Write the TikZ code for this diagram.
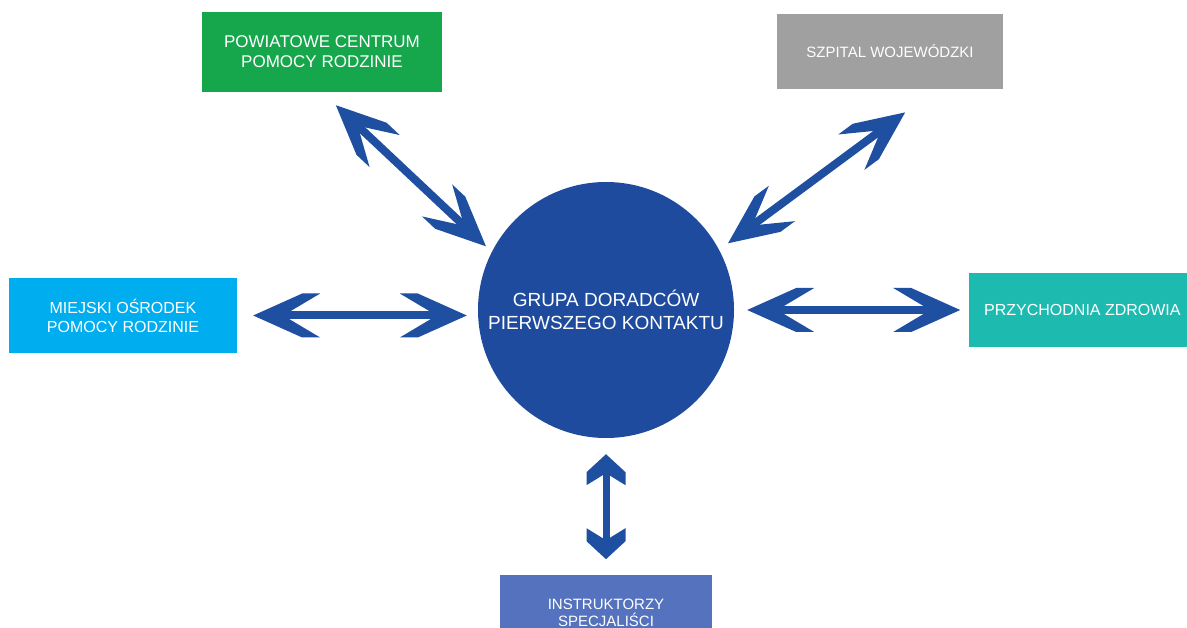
\documentclass[tikz,border=0pt]{standalone}
\usepackage{fontspec}
\setmainfont{Liberation Sans}
\usetikzlibrary{arrows.meta,positioning}

\definecolor{hubblue}{RGB}{30,75,157}
\definecolor{arrowblue}{RGB}{31,79,160}
\definecolor{pcprgreen}{RGB}{22,167,76}
\definecolor{szpgray}{RGB}{160,160,160}
\definecolor{mopscyan}{RGB}{0,174,239}
\definecolor{przteal}{RGB}{29,186,176}
\definecolor{instrblue}{RGB}{85,114,190}

% chevron heads with thick arms
\pgfdeclarearrow{
	name = bigchevron,
	setup code = {
		\pgfarrowssettipend{0pt}
		\pgfarrowssetlineend{-25pt}
		\pgfarrowssetbackend{-67pt}
		\pgfarrowsupperhullpoint{-67pt}{22pt}
	},
	drawing code = {
		\pgfpathmoveto{\pgfpoint{0pt}{0pt}}
		\pgfpathlineto{\pgfpoint{-49pt}{22pt}}
		\pgfpathlineto{\pgfpoint{-67pt}{22pt}}
		\pgfpathlineto{\pgfpoint{-30pt}{0pt}}
		\pgfpathlineto{\pgfpoint{-67pt}{-22pt}}
		\pgfpathlineto{\pgfpoint{-49pt}{-22pt}}
		\pgfpathclose
		\pgfusepathqfill
	}
}
\pgfdeclarearrow{
	name = smallchevron,
	setup code = {
		\pgfarrowssettipend{0pt}
		\pgfarrowssetlineend{-12pt}
		\pgfarrowssetbackend{-31pt}
		\pgfarrowsupperhullpoint{-31pt}{19.5pt}
	},
	drawing code = {
		\pgfpathmoveto{\pgfpoint{0pt}{0pt}}
		\pgfpathlineto{\pgfpoint{-18pt}{19.5pt}}
		\pgfpathlineto{\pgfpoint{-31pt}{19.5pt}}
		\pgfpathlineto{\pgfpoint{-19pt}{0pt}}
		\pgfpathlineto{\pgfpoint{-31pt}{-19.5pt}}
		\pgfpathlineto{\pgfpoint{-18pt}{-19.5pt}}
		\pgfpathclose
		\pgfusepathqfill
	}
}

\tikzset{
	box/.style={rectangle, text=white, align=center, inner sep=0pt, font=\fontsize{16}{19}\selectfont},
	hub/.style={circle, fill=hubblue, text=white, align=center, inner sep=0pt, minimum size=256pt, font=\fontsize{19}{23}\selectfont},
	link/.style={draw=arrowblue, fill=arrowblue, line width=8pt, bigchevron-bigchevron},
	shortlink/.style={draw=arrowblue, fill=arrowblue, line width=7pt, smallchevron-smallchevron}
}

\begin{document}
\begin{tikzpicture}[x=1pt, y=-1pt]
	  \clip (0,0) rectangle (1187,628) ;
	  \node[hub] (gdpk) at (606,310) {GRUPA DORADCÓW\\PIERWSZEGO KONTAKTU} ; %
	  \node[box, fill=pcprgreen, minimum width=240pt, minimum height=80pt, font=\fontsize{17}{20}\selectfont] (pcpr) at (322,52) {POWIATOWE CENTRUM\\POMOCY RODZINIE};
	  \node[box, fill=szpgray, minimum width=226pt, minimum height=75pt, font=\fontsize{15}{18}\selectfont] (szpital) at (890,51.5) {SZPITAL WOJEWÓDZKI};
	  \node[box, fill=mopscyan, minimum width=228pt, minimum height=75pt] (mops) at (123,315.5) {MIEJSKI OŚRODEK\\POMOCY RODZINIE};
	  \node[box, fill=przteal, minimum width=226pt, minimum height=74pt, right=235pt of gdpk] (przych) {PRZYCHODNIA ZDROWIA};
	  \node[box, fill=instrblue, minimum width=212pt, minimum height=75pt, below=137pt of gdpk, font=\fontsize{15}{16.5}\selectfont] (instr) {INSTRUKTORZY\\SPECJALIŚCI};

	  \draw[link, shorten <=19pt, shorten >=8pt] (pcpr.south) -- (gdpk.153) ; %
	  \draw[link, shorten <=39pt, shorten >=11pt] (szpital.-39) -- (gdpk.28) ;
	  \draw[link, shorten <=16pt, shorten >=11pt] (mops.east) -- (mops.east -| gdpk.west) ;
	  \draw[link, shorten <=13pt, shorten >=9pt] (przych.west -| gdpk.east) -- (przych.west) ;
	  \draw[shortlink, shorten <=16pt, shorten >=16pt] (gdpk.south) -- (instr.north) ;
\end{tikzpicture}
\end{document}
